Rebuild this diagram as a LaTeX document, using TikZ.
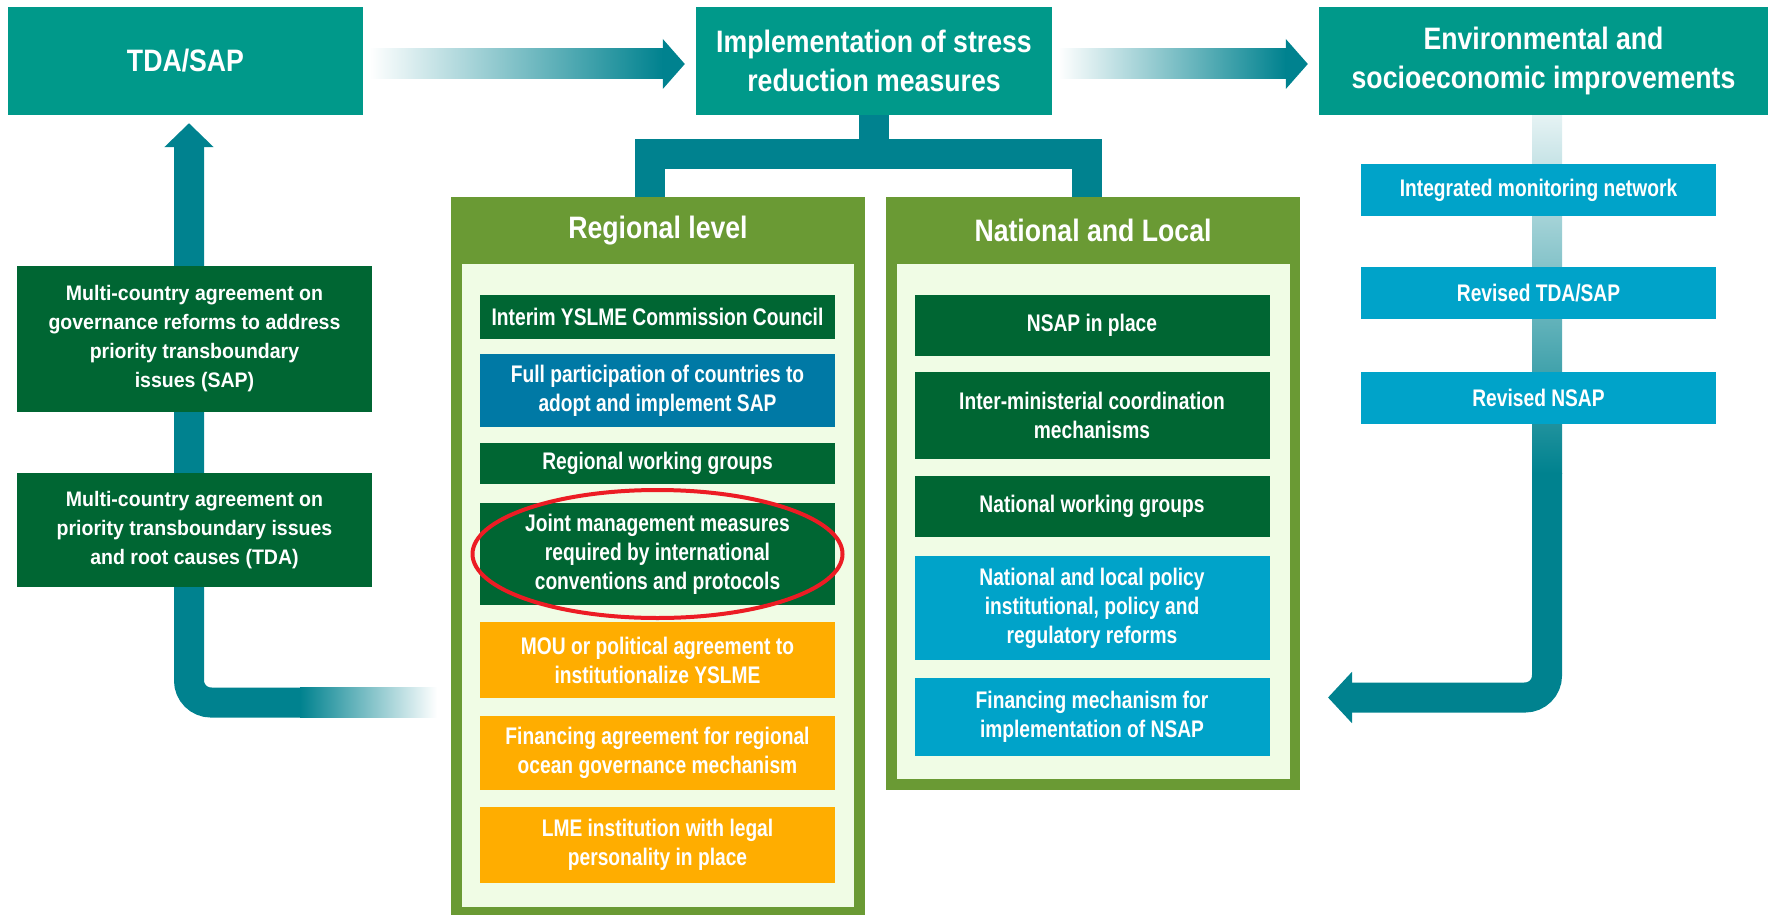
\documentclass[tikz,border=0pt]{standalone}
\usepackage{fontspec}
\setmainfont{Liberation Sans}[FakeStretch=0.93]
\newfontfamily\headfont{Liberation Sans}[FakeStretch=0.86]
\newfontfamily\itemfont{Liberation Sans}[FakeStretch=0.8]
\usetikzlibrary{
  arrows.meta,
  calc
}
\definecolor{headteal}{RGB}{0, 153, 138}
\definecolor{flowteal}{RGB}{0, 130, 143}
\definecolor{deepgreen}{RGB}{0, 102, 51}
\definecolor{olivegreen}{RGB}{106, 154, 52}
\definecolor{palegreen}{RGB}{240, 252, 229}
\definecolor{oceanblue}{RGB}{0, 121, 165}
\definecolor{skyblue}{RGB}{0, 163, 201}
\definecolor{amber}{RGB}{255, 173, 0}
\definecolor{ringred}{RGB}{236, 28, 36}
\tikzset{
  box/.style={rectangle, inner sep=0pt, align=center, text=white},
  headbox/.style={box, fill=headteal, minimum width=#1, minimum height=108pt,
    font=\headfont\bfseries\fontsize{31}{39}\selectfont},
  itembox/.style={box, minimum width=355pt, font=\itemfont\bfseries\fontsize{24}{29}\selectfont},
  leftbox/.style={box, fill=deepgreen, minimum width=355pt, font=\bfseries\fontsize{21}{29}\selectfont},
  paneltitle/.style={text=white, inner sep=0pt, font=\headfont\bfseries\fontsize{31}{39}\selectfont},
  flowline/.style={line width=30pt, flowteal}
}
\begin{document}
\begin{tikzpicture}[x=1pt, y=-1pt]
  \useasboundingbox (0,0) rectangle (1771,915);
  % ---------- TOP ROW ----------
  \node[headbox=355pt] (tda) at (185.5,61) {TDA/SAP};
  \node[headbox=356pt] (impl) at (874,61) {Implementation of stress\\reduction measures};
  \node[headbox=449pt] (env) at (1543.5,61) {Environmental and\\socioeconomic improvements};
  \foreach \src/\dst in {tda/impl, impl/env} {
    \fill[left color=white, right color=flowteal] ($(\src.east)+(6,-12)$) rectangle ($(\dst.west)+(-33,18)$);
    \fill[flowteal] ($(\dst.west)+(-33,-22)$) -- ($(\dst.west)+(-11,3)$) -- ($(\dst.west)+(-33,28)$) -- cycle;
  }
  % ---------- PANELS ----------
  \node[box, fill=olivegreen, minimum width=414pt, minimum height=718pt] (regpanel) at (658,556) {};
  \node[box, fill=palegreen, minimum width=392pt, minimum height=643pt] (reginner) at (658,585.5) {};
  \node[paneltitle] (regtitle) at (658,230.5) {Regional level};
  \node[box, fill=olivegreen, minimum width=414pt, minimum height=593pt] (natpanel) at (1093,493.5) {};
  \node[box, fill=palegreen, minimum width=393pt, minimum height=515pt] (natinner) at (1093.5,521.5) {};
  \node[paneltitle] (nattitle) at (1093,230.5) {National and Local};
  \coordinate (brk) at (impl.south |- 0,154);
  \draw[flowline] (impl.south) -- (brk);
  \draw[flowline] ($(regpanel.north)+(-8,0)$) |- (brk) -| ($(natpanel.north)+(-6,0)$);
  % regional items
  \node[itembox, fill=deepgreen, minimum height=44pt] (r1) at (657.5,317) {Interim YSLME Commission Council};
  \node[itembox, fill=oceanblue, minimum height=73pt] (r2) at (657.5,390.5) {Full participation of countries to\\adopt and implement SAP};
  \node[itembox, fill=deepgreen, minimum height=41pt] (r3) at (657.5,463.5) {Regional working groups};
  \node[itembox, fill=deepgreen, minimum height=102pt] (r4) at (657.5,554) {Joint management measures\\required by international\\conventions and protocols};
  \node[itembox, fill=amber, minimum height=76pt] (r5) at (657.5,660) {MOU or political agreement to\\institutionalize YSLME};
  \node[itembox, fill=amber, minimum height=74pt] (r6) at (657.5,753) {Financing agreement for regional\\ocean governance mechanism};
  \node[itembox, fill=amber, minimum height=76pt] (r7) at (657.5,845) {LME institution with legal\\personality in place};
  \draw[ringred, line width=4pt] (r4.center) ellipse [x radius=185pt, y radius=64pt];
  % national items
  \node[itembox, fill=deepgreen, minimum height=61pt] (n1) at (1092,325.5) {NSAP in place};
  \node[itembox, fill=deepgreen, minimum height=87pt] (n2) at (1092,415.5) {Inter-ministerial coordination\\mechanisms};
  \node[itembox, fill=deepgreen, minimum height=61pt] (n3) at (1092,506.5) {National working groups};
  \node[itembox, fill=skyblue, minimum height=104pt] (n4) at (1092,608) {National and local policy\\institutional, policy and\\regulatory reforms};
  \node[itembox, fill=skyblue, minimum height=78pt] (n5) at (1092,717) {Financing mechanism for\\implementation of NSAP};
  % ---------- LEFT LOOP ----------
  \coordinate (lfade) at (300,702.5);
  \coordinate (lbend) at (189,702.5);
  \draw[flowline, rounded corners=22pt, -{Triangle[length=24pt, width=48pt]}, shorten >=8pt]
    (lfade) -- (lbend) -- (lbend |- tda.south);
  \fill[left color=flowteal, right color=white] ($(lfade)+(0,-15)$) rectangle ($(lfade)+(137,15)$);
  \node[leftbox, minimum height=146pt] (sapagree) at (194.5,339) {Multi-country agreement on\\governance reforms to address\\priority transboundary\\issues (SAP)};
  \node[leftbox, minimum height=114pt] (tdaagree) at (194.5,530) {Multi-country agreement on\\priority transboundary issues\\and root causes (TDA)};
  % ---------- RIGHT LOOP ----------
  \coordinate (rfade) at (1547,473);
  \coordinate (rbend) at (1547,697.5);
  \coordinate (rtip) at (1328,697.5);
  \fill[top color=flowteal!10, bottom color=flowteal] ($(env.south -| rfade)+(-15,0)$) rectangle ($(rfade)+(15,0)$);
  \draw[flowline, rounded corners=22pt, -{Triangle[length=24pt, width=50pt]}] (rfade) -- (rbend) -- (rtip);
  \node[itembox, fill=skyblue, minimum height=52pt] (mon) at (1538.5,190) {Integrated monitoring network};
  \node[itembox, fill=skyblue, minimum height=52pt] (revtda) at (1538.5,293) {Revised TDA/SAP};
  \node[itembox, fill=skyblue, minimum height=52pt] (revnsap) at (1538.5,398) {Revised NSAP};
\end{tikzpicture}
\end{document}
